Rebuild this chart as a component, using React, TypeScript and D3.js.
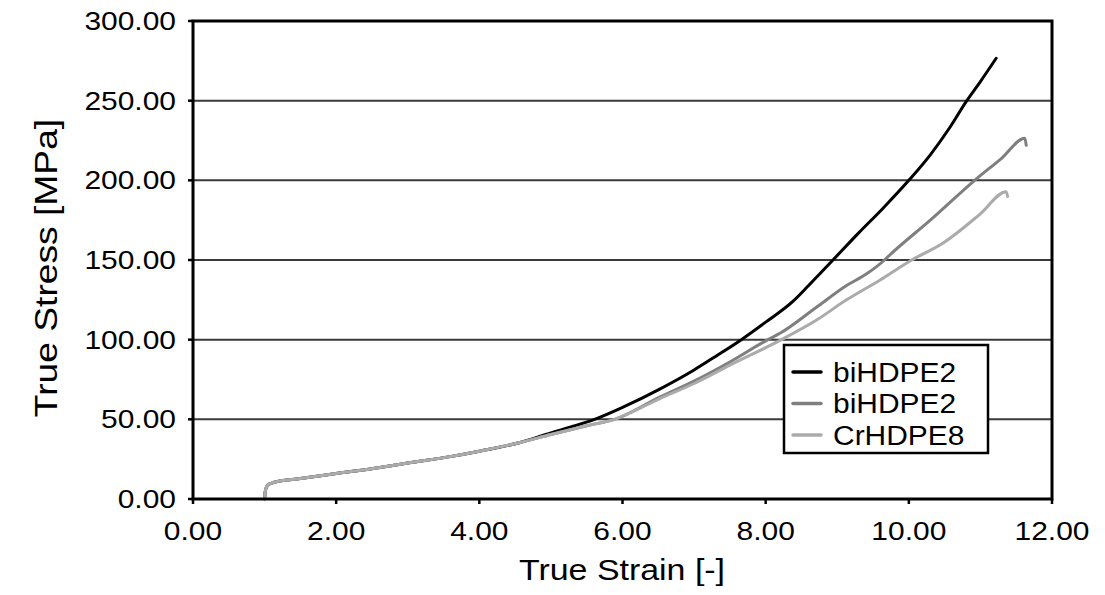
import React from "react";
import * as d3 from "d3";

const W = 1105;
const H = 595;

// Series data (true strain [-], true stress [MPa])
const black_strain = [1.0, 1.005, 1.015, 1.04, 1.1, 1.17, 1.5, 2.0, 2.61, 3.0, 3.59, 4.0, 4.57, 5.0, 5.3, 5.61, 6.0, 6.52, 7.0, 7.3, 7.66, 8.0, 8.38, 8.6, 8.94, 9.3, 9.65, 10.0, 10.3, 10.57, 10.81, 11.0, 11.22];
const black_stress = [0, 3, 6, 8.5, 10, 10.9, 12.8, 16, 19.8, 22.6, 26.6, 30, 35.5, 41.5, 45.5, 50, 57.5, 69, 81, 89.5, 100, 111, 124, 134, 150, 167, 183, 200, 216, 233, 250, 262, 276.6];

const mid_strain = [1.0, 1.005, 1.015, 1.04, 1.1, 1.17, 1.5, 2.0, 2.61, 3.0, 3.59, 4.0, 4.57, 5.0, 5.5, 5.89, 6.52, 7.0, 7.5, 8.03, 8.2, 8.7, 9.13, 9.4, 9.66, 9.73, 10.3, 10.92, 11.3, 11.62, 11.64];
const mid_stress = [0, 3, 6, 8.5, 10, 10.9, 12.8, 16, 19.8, 22.6, 26.6, 30, 35.5, 40.5, 46, 50, 64, 74, 86, 100, 104, 120, 134, 141, 150, 153, 175, 200, 214, 226.4, 222];

const light_strain = [1.0, 1.005, 1.015, 1.04, 1.1, 1.17, 1.5, 2.0, 2.61, 3.0, 3.59, 4.0, 4.57, 5.0, 5.5, 5.89, 6.52, 7.0, 7.5, 8.22, 8.7, 9.13, 9.6, 10.04, 10.48, 11.0, 11.36, 11.38];
const light_stress = [0, 3, 6, 8.5, 10, 10.9, 12.8, 16, 19.8, 22.6, 26.6, 30, 35.5, 40.5, 46, 50, 63, 72.5, 84, 100, 112, 125, 137.5, 150, 160.7, 179, 192.9, 189.8];

const seriesNames = ["biHDPE2", "biHDPE2", "CrHDPE8"];
const seriesColors = ["#000000", "#7f7f7f", "#ababab"];

const xTicks = [0, 2, 4, 6, 8, 10, 12];
const yTicks = [0, 50, 100, 150, 200, 250, 300];

const xTitle = "True Strain [-]";
const yTitle = "True Stress [MPa]";

const FONT = "'Liberation Sans', Arial, Helvetica, sans-serif";

export default function App() {
  const left = 193, right = 1052, top = 21, bottom = 499;
  const x = d3.scaleLinear().domain([0, 12]).range([left, right]);
  const y = d3.scaleLinear().domain([0, 300]).range([bottom, top]);

  const series = [
    { xs: black_strain, ys: black_stress },
    { xs: mid_strain, ys: mid_stress },
    { xs: light_strain, ys: light_stress },
  ];

  const line = d3
    .line<[number, number]>()
    .x((d) => x(d[0]))
    .y((d) => y(d[1]))
    .curve(d3.curveMonotoneX);

  const sx = 1.17;

  return (
    <svg
      width={W}
      height={H}
      style={{ position: "absolute", left: 0, top: 0, background: "#fff" }}
      fontFamily={FONT}
    >
      <rect x={0} y={0} width={W} height={H} fill="#fff" />
      {/* gridlines */}
      {yTicks.filter((t) => t > 0 && t < 300).map((t) => (
        <line key={"g" + t} x1={left} x2={right} y1={y(t)} y2={y(t)} stroke="#3a3a3a" strokeWidth={2} />
      ))}
      {/* series */}
      {[0, 1, 2].map((i) => {
        const pts: [number, number][] = series[i].xs.map((v, k) => [v, series[i].ys[k]]);
        return (
          <path key={"s" + i} d={line(pts) || ""} fill="none" stroke={seriesColors[i]} strokeWidth={3} strokeLinejoin="round" strokeLinecap="round" />
        );
      })}
      {/* frame */}
      <rect x={left} y={top} width={right - left} height={bottom - top} fill="none" stroke="#000" strokeWidth={3} />
      {/* y ticks */}
      {yTicks.map((t) => (
        <g key={"yt" + t}>
          <line x1={left - 5} x2={left} y1={y(t)} y2={y(t)} stroke="#000" strokeWidth={2.5} />
          <text transform={`translate(${left - 17},${y(t) + 9}) scale(${sx},1)`} textAnchor="end" fontSize={25.6} fill="#000">
            {t.toFixed(2)}
          </text>
        </g>
      ))}
      {/* x ticks */}
      {xTicks.map((t) => (
        <g key={"xt" + t}>
          <line x1={x(t)} x2={x(t)} y1={bottom} y2={bottom + 5} stroke="#000" strokeWidth={2.5} />
          <text transform={`translate(${x(t)},${540}) scale(${sx},1)`} textAnchor="middle" fontSize={25.6} fill="#000">
            {t.toFixed(2)}
          </text>
        </g>
      ))}
      {/* axis titles */}
      <text transform={`translate(${622},${580}) scale(${sx},1)`} textAnchor="middle" fontSize={29} fill="#000">
        {xTitle}
      </text>
      <text transform={`translate(${57},${268}) scale(1,1.2) rotate(-90)`} textAnchor="middle" fontSize={31} fill="#000">
        {yTitle}
      </text>
      {/* legend */}
      <rect x={784} y={345} width={204} height={108} fill="#fff" stroke="#000" strokeWidth={2.5} />
      {seriesNames.map((n, i) => {
        const ly = 372 + i * 31.5;
        return (
          <g key={"l" + i}>
            <line x1={793} x2={821} y1={ly} y2={ly} stroke={seriesColors[i]} strokeWidth={3.5} strokeLinecap="round" />
            <text transform={`translate(${833},${ly + 9.5}) scale(1.07,1)`} fontSize={28} fill="#000">
              {n}
            </text>
          </g>
        );
      })}
    </svg>
  );
}
